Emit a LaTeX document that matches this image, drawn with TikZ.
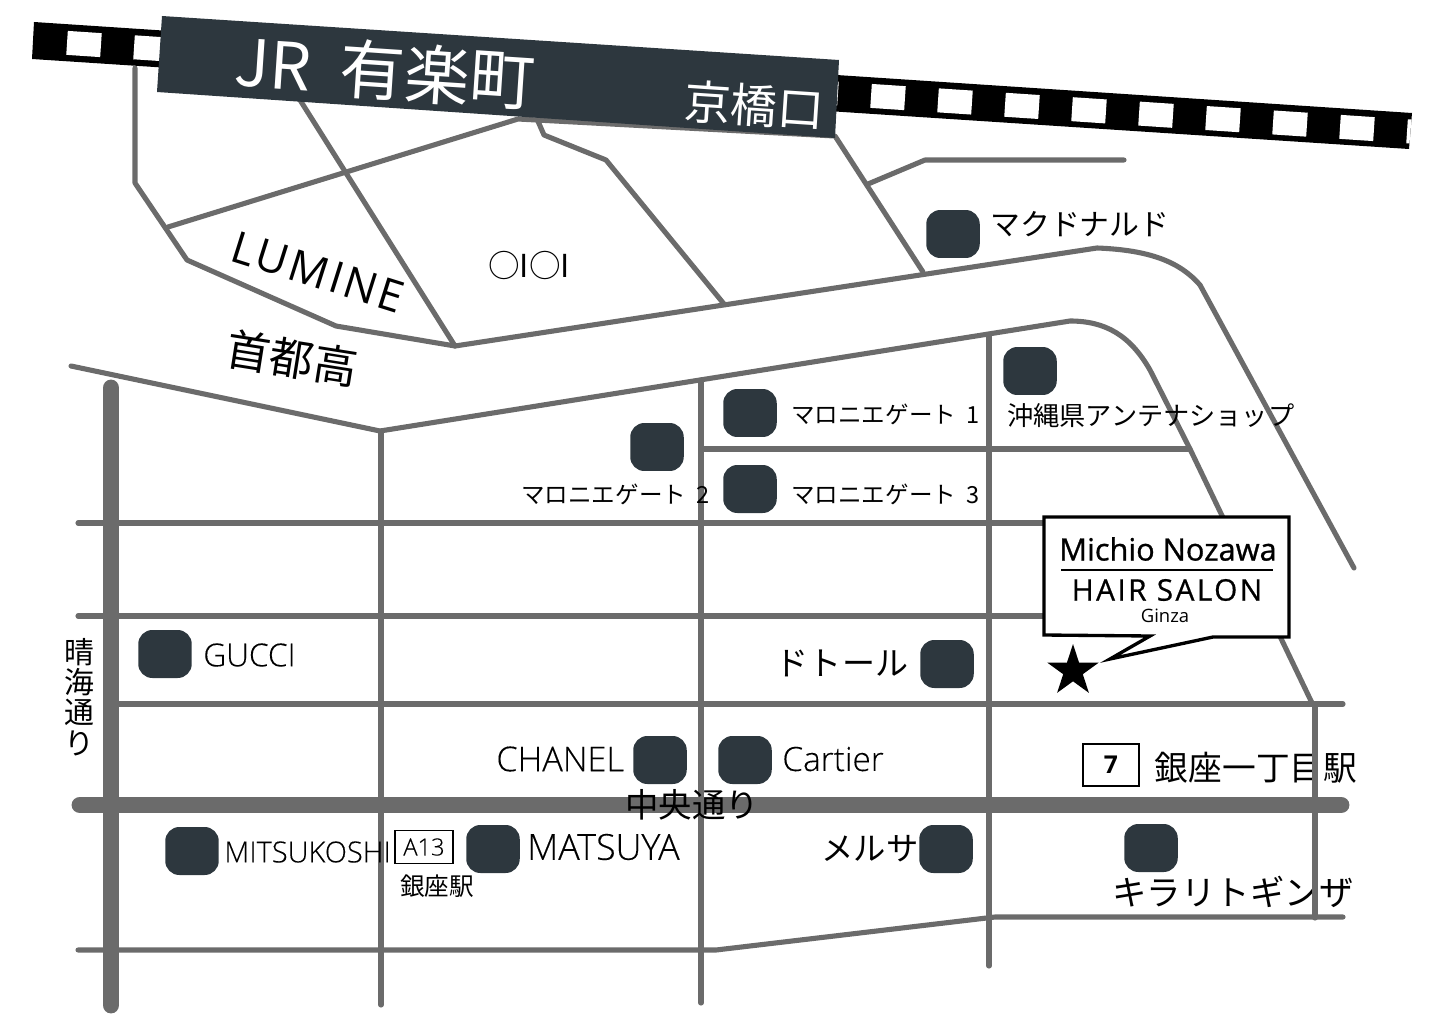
\documentclass[tikz,border=0pt]{standalone}
\usepackage{fontspec}
\setmainfont[FakeBold=0.2]{Open Sans Light}
\newfontfamily\regfont{Open Sans}
\newfontfamily\cjk{Noto Sans CJK JP}
\newfontfamily\spaced[LetterSpace=8,FakeBold=0.6]{Open Sans}
\newfontfamily\namefont[FakeBold=0.9]{Open Sans}
\newfontfamily\lumfont[LetterSpace=6]{Open Sans}
\usetikzlibrary{shapes.geometric}
\definecolor{roadgray}{RGB}{107,107,107}
\definecolor{shopdark}{RGB}{45,55,62}
\newcommand{\pts}[1]{\fontsize{#1}{#1}\selectfont}
\tikzstyle{road} = [draw=roadgray, line width=2.9pt, line cap=round, line join=round]
\tikzstyle{mainroad} = [draw=roadgray, line width=9.6pt, line cap=round]
\tikzstyle{shop} = [rectangle, rounded corners=8pt, minimum width=1.07cm, minimum height=0.96cm, inner sep=0pt, fill=shopdark]
\tikzstyle{window} = [rectangle, minimum width=0.68cm, minimum height=0.48cm, inner sep=0pt, fill=white, rotate=-3.8]
\tikzstyle{label} = [inner sep=0pt, text=black]
\tikzstyle{station} = [rectangle, draw=black, line width=0.9pt, inner sep=0pt]

\begin{document}
\begin{tikzpicture}[x=0.02cm,y=-0.02cm]
	\useasboundingbox (0,0) rectangle (1440,1017);
	% railway
	\fill[black] (34,22) -- (1412,113) -- (1409,149) -- (32,59) -- cycle;
	\begin{scope}
		\clip (34,22) -- (1412,113) -- (1409,149) -- (32,59) -- cycle;
		\foreach \i in {0,...,20}
			\node (win\i) [window] at (84+67*\i,44+4.42*\i) {};
	\end{scope}
	% big roads
	\draw[mainroad] (111,388) -- (111,1005);
	\draw[mainroad] (80,805) -- (1341,805);
	% roads
	\draw[road] (135,68) -- (135,183) -- (187,260) -- (336,326) -- (455,346) -- (1097,248) .. controls (1150,250) and (1180,262) .. (1200,285) -- (1354,568);
	\draw[road] (300,100) -- (455,346);
	\draw[road] (168,227) -- (518,119) -- (835,136) -- (923,272);
	\draw[road] (537,119) -- (544,135) -- (606,160) -- (724,304);
	\draw[road] (868,184) -- (925,160) -- (1124,160);
	\draw[road] (71,366) -- (380,431) -- (1070,321) .. controls (1105,321) and (1130,335) .. (1150,370) -- (1190,449) -- (1312,703);
	\draw[road] (381,431) -- (381,1005);
	\draw[road] (701,380) -- (701,1003);
	\draw[road] (989,335) -- (989,966);
	\draw[road] (702,449) -- (1190,449);
	\draw[road] (78,523) -- (1045,523);
	\draw[road] (78,616) -- (1045,616);
	\draw[road] (115,704) -- (1343,704);
	\draw[road] (78,950) -- (716,950) -- (995,917) -- (1343,917);
	% banner
	\fill[shopdark] (162,16) -- (839,60) -- (835,138) -- (157,92) -- cycle;
	\node (yurakucho) [label,text=white,rotate=-3.8,anchor=center] at (385,71) {\cjk\pts{37}JR\ \ 有楽町};
	\node (kyobashi) [label,text=white,rotate=-3.8] at (754,105) {\cjk\pts{26.5}京橋口};
	% area names
	\node (lumine) [label,rotate=-17.5] at (318,272) {\lumfont\pts{25}LUMINE};
	\node (marui) [label] at (529,265) {\cjk\pts{18}○I○I};
	\node (shutoko) [label,rotate=-9] at (292,358) {\cjk\pts{25}首都高};
	\node (harumi) [label,align=center,font=\cjk\fontsize{17}{17.2}\selectfont] at (79,697) {晴\\海\\通\\り};
	\node (chuo) [label] at (692,805) {\cjk\pts{19}中央通り};
	% shop labels
	\node (mcdlabel) [label,anchor=west] at (990,224) {\cjk\pts{17}マクドナルド};
	\node (gate1label) [label,anchor=west] at (791,414) {\cjk\pts{13.4}マロニエゲート\ \ 1};
	\node (gate2label) [label,anchor=west] at (521,494) {\cjk\pts{13.4}マロニエゲート\ \ 2};
	\node (gate3label) [label,anchor=west] at (791,494) {\cjk\pts{13.4}マロニエゲート\ \ 3};
	\node (okinawalabel) [label,anchor=west] at (1007,416) {\cjk\pts{14.9}沖縄県アンテナショップ};
	\node (guccilabel) [label,anchor=west] at (203,655) {\pts{18}GUCCI};
	\node (doutorlabel) [label] at (842,663) {\cjk\pts{18.8}ドトール};
	\node (chanellabel) [label,anchor=west] at (496,759) {\pts{19.5}CHANEL};
	\node (cartierlabel) [label,anchor=west] at (782,759) {\pts{19}Cartier};
	\node (mitsukoshilabel) [label,anchor=west] at (224,852) {\pts{16.5}MITSUKOSHI};
	\node (matsuyalabel) [label,anchor=west] at (527,847) {\pts{20.4}MATSUYA};
	\node (melsalabel) [label] at (870,849) {\cjk\pts{18.4}メルサ};
	\node (kiraritolabel) [label] at (1233,892) {\cjk\pts{19.6}キラリトギンザ};
	% stations
	\node (a13) [station,minimum width=1.16cm,minimum height=0.66cm] at (424,847) {\pts{13.5}A13};
	\node (ginzalabel) [label] at (437,886) {\cjk\pts{14}銀座駅};
	\node (seven) [station,minimum width=1.12cm,minimum height=0.84cm] at (1111,765) {\regfont\bfseries\pts{14}7};
	\node (itchomelabel) [label] at (1256,768) {\cjk\pts{19.2}銀座一丁目駅};
	\draw[road] (1315,704) -- (1315,918);
	% shops
	\node (mcd) [shop] at (953,234) {};
	\node (okinawa) [shop] at (1030,371) {};
	\node (gate1) [shop] at (750,413) {};
	\node (gate2) [shop] at (657,447) {};
	\node (gate3) [shop] at (750,489) {};
	\node (gucci) [shop] at (165,654) {};
	\node (doutor) [shop] at (947,664) {};
	\node (chanel) [shop] at (660,760) {};
	\node (cartier) [shop] at (745,760) {};
	\node (mitsukoshi) [shop] at (192,851) {};
	\node (matsuya) [shop] at (493,849) {};
	\node (melsa) [shop] at (946,849) {};
	\node (kirarito) [shop] at (1151,848) {};
	% salon
	\draw[fill=white,draw=black,line width=1.9pt] (1044,517) -- (1289,517) -- (1289,637) -- (1213,637) -- (1110,659) -- (1150,636) -- (1044,635) -- cycle;
	\node (salonname) [label] at (1168,549) {\namefont\pts{17.5}Michio Nozawa};
	\draw[black,line width=1.7pt] (1061,570) -- (1273,570);
	\node (salontype) [label] at (1167,590) {\spaced\pts{17}HAIR SALON};
	\node (salonplace) [label] at (1165,616) {\regfont\pts{10.5}Ginza};
	\node (salonstar) [star,star points=5,star point ratio=2.618,fill=black,inner sep=0pt,minimum size=1.08cm] at (1073,671) {};
\end{tikzpicture}
\end{document}
